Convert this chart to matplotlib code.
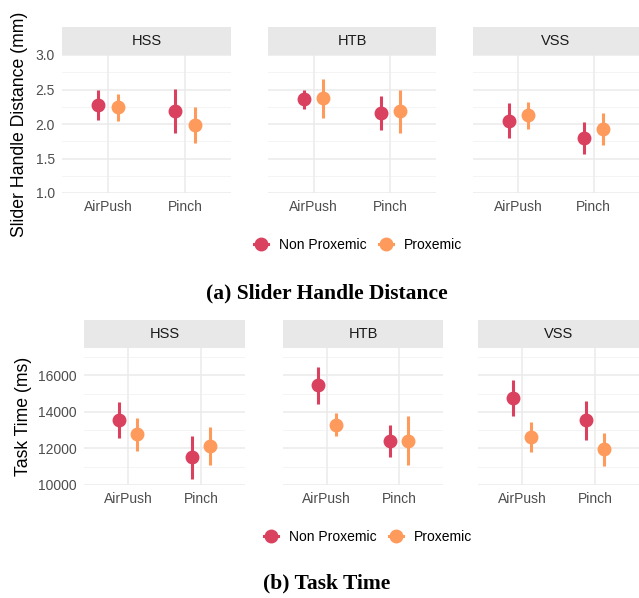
import matplotlib.pyplot as plt
from matplotlib.lines import Line2D
import numpy as np

plt.rcParams['font.family'] = ['Liberation Sans', 'DejaVu Sans']

# facets, categories, groups
facets = ['HSS', 'HTB', 'VSS']
techniques = ['AirPush', 'Pinch']
groups = ['Non Proxemic', 'Proxemic']
colors = ['#D9415F', '#FE9A5B']

# (a) slider handle distance (mm): mean, low, high per facet -> [group][technique]
dist_mean = {
    'HSS': [[2.28, 2.19], [2.25, 1.98]],
    'HTB': [[2.36, 2.16], [2.37, 2.19]],
    'VSS': [[2.05, 1.80], [2.13, 1.93]],
}
dist_low = {
    'HSS': [[2.06, 1.87], [2.05, 1.72]],
    'HTB': [[2.22, 1.92], [2.09, 1.87]],
    'VSS': [[1.80, 1.56], [1.93, 1.69]],
}
dist_high = {
    'HSS': [[2.49, 2.51], [2.43, 2.25]],
    'HTB': [[2.50, 2.40], [2.65, 2.50]],
    'VSS': [[2.31, 2.03], [2.32, 2.16]],
}

# (b) task time (ms)
time_mean = {
    'HSS': [[13580, 11510], [12780, 12125]],
    'HTB': [[15490, 12420], [13310, 12420]],
    'VSS': [[14780, 13540], [12630, 11950]],
}
time_low = {
    'HSS': [[12600, 10310], [11870, 11070]],
    'HTB': [[14450, 11540], [12670, 11090]],
    'VSS': [[13760, 12450], [11810, 11050]],
}
time_high = {
    'HSS': [[14540, 12670], [13690, 13180]],
    'HTB': [[16450, 13270], [13940, 13760]],
    'VSS': [[15760, 14590], [13450, 12820]],
}

W, H = 639, 598
fig = plt.figure(figsize=(W / 100, H / 100), dpi=100)


def px_axes(x0, y0, x1, y1):
    return fig.add_axes([x0 / W, 1 - y1 / H, (x1 - x0) / W, (y1 - y0) / H])


def draw_row(panels_x, top, bottom, strip_h, mean, low, high, ylim, yticks,
             yminor, yticklabels, ylabel, ylabel_x):
    for i, (f, (x0, x1)) in enumerate(zip(facets, panels_x)):
        ax = px_axes(x0, top, x1, bottom)
        ax.set_xlim(0.4, 2.6)
        ax.set_ylim(*ylim)
        for s in ax.spines.values():
            s.set_visible(False)
        for yv in yticks:
            ax.axhline(yv, color='#EBEBEB', lw=1.1, zorder=0)
        for yv in yminor:
            ax.axhline(yv, color='#F2F2F2', lw=0.6, zorder=0)
        for xv in [1, 2]:
            ax.axvline(xv, color='#EBEBEB', lw=1.1, zorder=0)
        ax.tick_params(length=0, labelsize=10, labelcolor='#4D4D4D', pad=5)
        ax.set_xticks([1, 2])
        ax.set_xticklabels(techniques)
        ax.set_yticks(yticks)
        if i == 0:
            ax.set_yticklabels(yticklabels)
        else:
            ax.set_yticklabels([])
        for g in range(2):
            off = -0.125 if g == 0 else 0.125
            xs = np.array([1, 2]) + off
            for t in range(2):
                ax.plot([xs[t], xs[t]], [low[f][g][t], high[f][g][t]],
                        color=colors[g], lw=2.2, solid_capstyle='butt', zorder=2)
            ax.plot(xs, mean[f][g], 'o', color=colors[g], ms=9, zorder=3)
        # strip
        sax = px_axes(x0, top - strip_h, x1, top)
        sax.set_xticks([])
        sax.set_yticks([])
        for s in sax.spines.values():
            s.set_visible(False)
        sax.set_facecolor('#E8E8E8')
        sax.text(0.5, 0.5, f, ha='center', va='center', fontsize=10.5,
                 color='#1A1A1A', transform=sax.transAxes)
    fig.text(ylabel_x / W, 1 - ((top + bottom) / 2) / H, ylabel, rotation=90,
             ha='center', va='center', fontsize=12.7)


draw_row([(62, 231), (268, 436), (473, 639)], 55, 193, 28,
         dist_mean, dist_low, dist_high, (1.0, 3.0),
         [1.0, 1.5, 2.0, 2.5, 3.0], [1.25, 1.75, 2.25, 2.75],
         ['1.0', '1.5', '2.0', '2.5', '3.0'],
         'Slider Handle Distance (mm)', 20)

draw_row([(84, 245), (283, 443), (478, 639)], 348, 485, 28,
         time_mean, time_low, time_high, (10000, 17500),
         [10000, 12000, 14000, 16000], [11000, 13000, 15000, 17000],
         ['10000', '12000', '14000', '16000'],
         'Task Time (ms)', 24)

handles = [Line2D([0], [0], color=c, marker='o', ms=9, lw=2.2) for c in colors]
for cx, cy in [(358, 245), (368, 537)]:
    fig.legend(handles, groups, loc='center', ncol=2, frameon=False,
               bbox_to_anchor=(cx / W, 1 - cy / H), fontsize=10,
               handlelength=1.0, handletextpad=0.8, columnspacing=0.9)

fig.text(327 / W, 1 - 293 / H, '(a) Slider Handle Distance', ha='center',
         va='center', fontsize=15.5, fontweight='bold', family='Liberation Serif')
fig.text(327 / W, 1 - 583 / H, '(b) Task Time', ha='center',
         va='center', fontsize=15.5, fontweight='bold', family='Liberation Serif')

fig.savefig('out.png', dpi=100)
